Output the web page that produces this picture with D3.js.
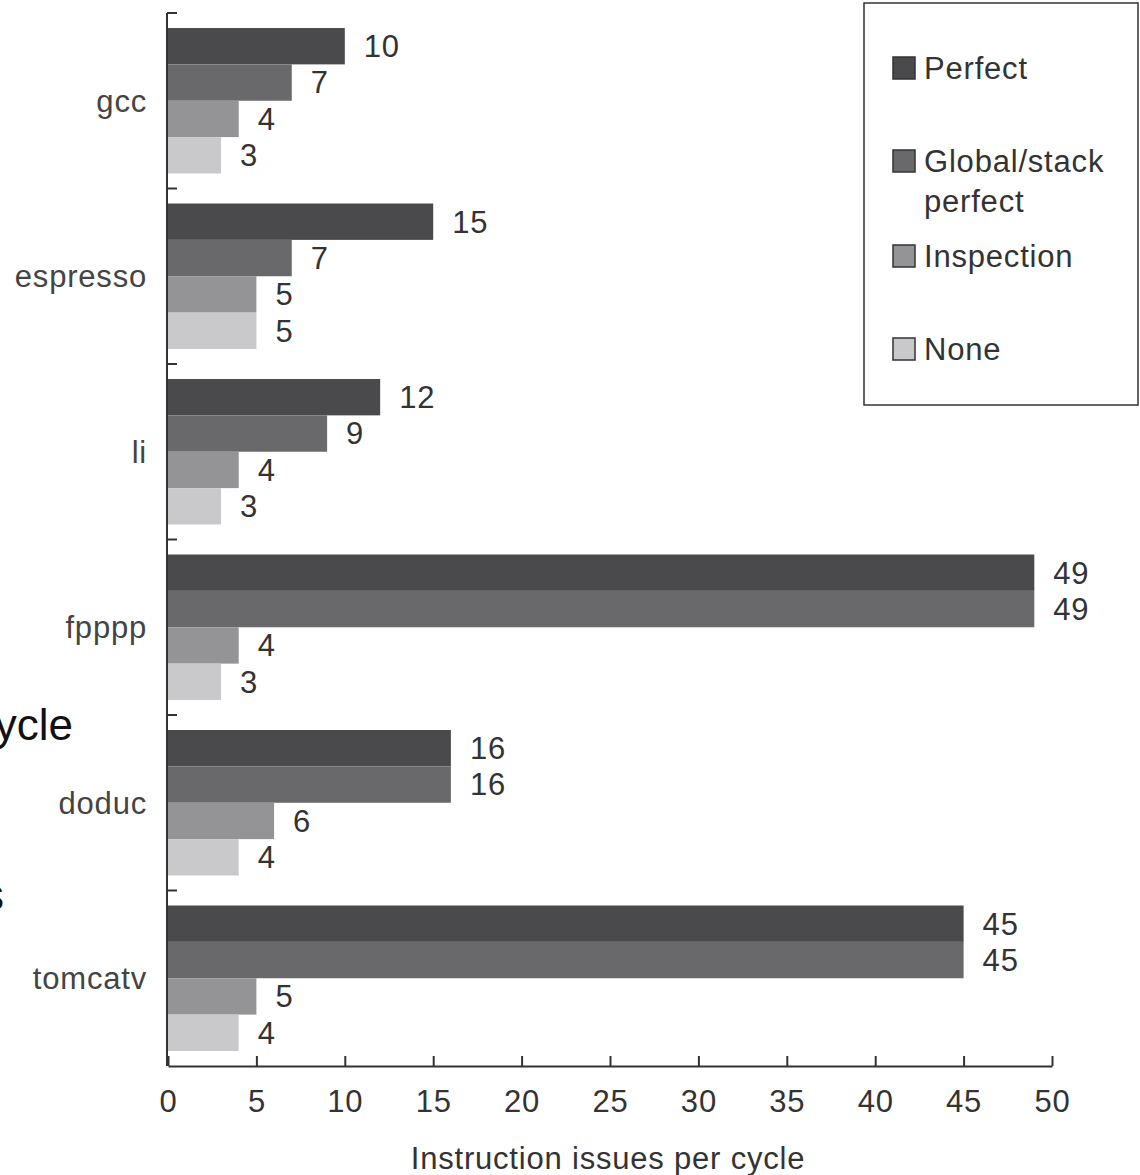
<!DOCTYPE html>
<html>
<head>
<meta charset="utf-8">
<script src="https://cdn.jsdelivr.net/npm/d3@7"></script>
<style>
  html, body { margin: 0; padding: 0; background: #fff; }
  svg { display: block; font-family: "Liberation Sans", Arial, sans-serif; }
  svg text { letter-spacing: 0.8px; }
</style>
</head>
<body>
<svg id="chart" width="1140" height="1175"></svg>
<script>
const categories = ["gcc", "espresso", "li", "fpppp", "doduc", "tomcatv"];
const seriesNames = ["Perfect", "Global/stack perfect", "Inspection", "None"];
const perfect = [10, 15, 12, 49, 16, 45];
const globalStack = [7, 7, 9, 49, 16, 45];
const inspection = [4, 5, 4, 4, 6, 5];
const none = [3, 5, 3, 3, 4, 4];
const xTicks = [0, 5, 10, 15, 20, 25, 30, 35, 40, 45, 50];
const colors = ["#4a4a4c", "#69696b", "#949496", "#c9c9cb"];
const xTitle = "Instruction issues per cycle";

const seriesValues = [perfect, globalStack, inspection, none];

const svg = d3.select("#chart");
const x = d3.scaleLinear().domain([0, 50]).range([168, 1052]);
const y = d3.scaleBand().domain(categories).range([13, 1066]).padding(0);
const inner = d3.scaleBand().domain(d3.range(seriesNames.length))
  .range([15, y.bandwidth() - 15]).padding(0);

const textColor = "#333";
const fs = 31;

// bars
categories.forEach((cat, ci) => {
  const g = svg.append("g").attr("transform", `translate(0,${y(cat)})`);
  seriesValues.forEach((vals, si) => {
    g.append("rect")
      .attr("x", x(0))
      .attr("y", inner(si))
      .attr("width", x(vals[ci]) - x(0))
      .attr("height", inner.bandwidth())
      .attr("fill", colors[si]);
    g.append("text")
      .attr("x", x(vals[ci]) + 19)
      .attr("y", inner(si) + inner.bandwidth() / 2)
      .attr("dy", "0.35em")
      .attr("font-size", fs)
      .attr("fill", textColor)
      .text(vals[ci]);
  });
  svg.append("text")
    .attr("x", 147)
    .attr("y", y(cat) + y.bandwidth() / 2)
    .attr("dy", "0.35em")
    .attr("text-anchor", "end")
    .attr("font-size", fs)
    .attr("fill", "#444")
    .text(cat);
});

// y axis line and inward ticks
svg.append("line")
  .attr("x1", 167).attr("x2", 167)
  .attr("y1", y.range()[0]).attr("y2", y.range()[1])
  .attr("stroke", textColor).attr("stroke-width", 2);
categories.forEach(cat => {
  svg.append("line")
    .attr("x1", 167).attr("x2", 177)
    .attr("y1", y(cat)).attr("y2", y(cat))
    .attr("stroke", textColor).attr("stroke-width", 2);
});

// x axis
const xAxis = d3.axisBottom(x).tickValues(xTicks)
  .tickSizeInner(-10).tickSizeOuter(0).tickPadding(24);
const gx = svg.append("g").attr("transform", `translate(0,${y.range()[1]})`).call(xAxis);
gx.select(".domain").attr("stroke", textColor).attr("stroke-width", 2);
gx.selectAll(".tick line").attr("stroke", textColor).attr("stroke-width", 2);
gx.selectAll(".tick text")
  .attr("font-size", fs)
  .attr("font-family", "Liberation Sans, Arial, sans-serif")
  .attr("fill", textColor);

svg.append("text")
  .attr("x", 608).attr("y", 1169)
  .attr("text-anchor", "middle")
  .attr("font-size", fs)
  .attr("fill", textColor)
  .text(xTitle);

// legend
const lg = svg.append("g");
lg.append("rect")
  .attr("x", 864).attr("y", 3).attr("width", 274).attr("height", 402)
  .attr("fill", "#fff").attr("stroke", textColor).attr("stroke-width", 1.5);
const legendY = [68, 161, 256, 349];
const legendLines = [["Perfect"], ["Global/stack", "perfect"], ["Inspection"], ["None"]];
seriesNames.forEach((name, i) => {
  lg.append("rect")
    .attr("x", 893).attr("y", legendY[i] - 11)
    .attr("width", 22).attr("height", 22)
    .attr("fill", colors[i]).attr("stroke", textColor).attr("stroke-width", 1.5);
  legendLines[i].forEach((line, li) => {
    lg.append("text")
      .attr("x", 924).attr("y", legendY[i] + li * 40)
      .attr("dy", "0.35em")
      .attr("font-size", fs)
      .attr("fill", textColor)
      .text(line);
  });
});

// cropped fragments of neighbouring text at the left edge
svg.append("text")
  .attr("x", 73).attr("y", 740)
  .attr("text-anchor", "end")
  .attr("font-size", 44)
  .style("letter-spacing", "0px")
  .attr("fill", "#111")
  .text("ycle");
svg.append("text")
  .attr("x", 4).attr("y", 910)
  .attr("text-anchor", "end")
  .attr("font-size", 44)
  .style("letter-spacing", "0px")
  .attr("fill", "#111")
  .text("s");
</script>
</body>
</html>
